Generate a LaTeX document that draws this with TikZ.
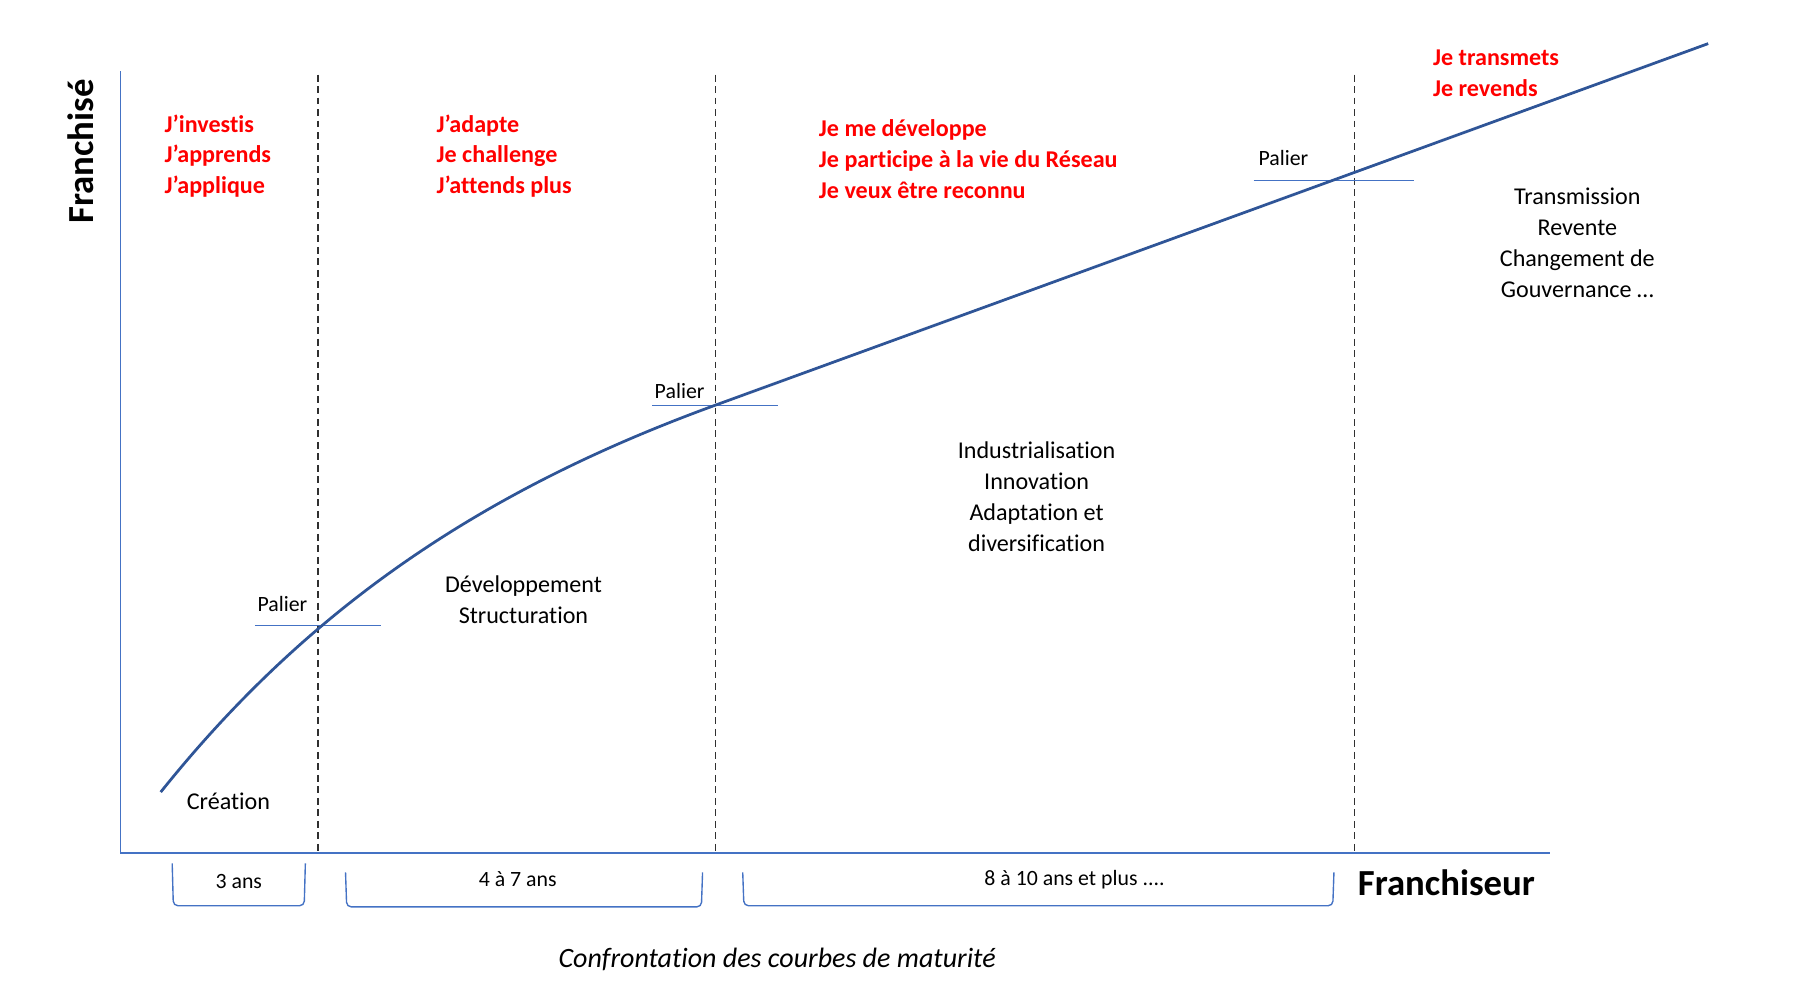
\documentclass[tikz,border=0pt]{standalone}
\usepackage{fontspec}
\setmainfont{Carlito}[Ligatures=NoCommon]
\definecolor{curveblue}{HTML}{2F5597}
\definecolor{axisblue}{HTML}{4472C4}
\definecolor{redtxt}{HTML}{FF0000}
\definecolor{dashgray}{HTML}{303030}
\begin{document}
\begin{tikzpicture}[x=0.5pt,y=-0.5pt,
  redtext/.style={text=redtxt,font=\fontsize{10.5}{13.5}\selectfont\bfseries,align=left,anchor=west,inner sep=0pt},
  phasetext/.style={font=\fontsize{10.5}{13.5}\selectfont,align=center,inner sep=0pt},
  smalltext/.style={font=\fontsize{9.5}{11}\selectfont,inner sep=0pt},
  axistitle/.style={font=\fontsize{16}{18}\selectfont\bfseries,inner sep=0pt},
  axisline/.style={draw=axisblue,line width=0.8pt},
  palierline/.style={draw=axisblue,line width=0.6pt},
  phaseline/.style={draw=dashgray,line width=0.55pt,dash pattern=on 3pt off 2pt},
  bracketline/.style={draw=axisblue,line width=0.6pt,rounded corners=2pt},
  maturity/.style={draw=curveblue,line width=1.2pt}]
\useasboundingbox (0,0) rectangle (1568,877);

% axes
\coordinate (ytop) at (105,62);
\coordinate (origin) at (105,743);
\coordinate (xend) at (1350,743);
\draw[axisline] (ytop) -- (origin) -- (xend);

% phase separators
\coordinate (d1t) at (277,65);  \coordinate (d1b) at (277,743);
\coordinate (d2t) at (623,65);  \coordinate (d2b) at (623,743);
\coordinate (d3t) at (1180,65); \coordinate (d3b) at (1180,743);
\draw[phaseline] (d1t) -- (d1b);
\draw[phaseline] (d2t) -- (d2b);
\draw[phaseline] (d3t) -- (d3b);

% paliers
\coordinate (p1a) at (222,545); \coordinate (p1b) at (332,545);
\coordinate (p2a) at (568,353); \coordinate (p2b) at (678,353);
\coordinate (p3a) at (1092,157); \coordinate (p3b) at (1232,157);
\draw[palierline] (p1a) -- (p1b);
\draw[palierline] (p2a) -- (p2b);
\draw[palierline] (p3a) -- (p3b);
\node[smalltext] (pal1) at (246,526) {Palier};
\node[smalltext] (pal2) at (592,341) {Palier};
\node[smalltext] (pal3) at (1118,138) {Palier};

% maturity curve
\coordinate (cstart) at (140,690);
\coordinate (cmid) at (623,353);
\coordinate (cend) at (1488,38);
\draw[maturity] (cstart) .. controls (270,527.5) and (423,425.8) .. (cmid) -- (cend);

% red texts
\node[redtext] (r1) at (143,136) {J’investis\\J’apprends\\J’applique};
\node[redtext] (r2) at (380,136) {J’adapte\\Je challenge\\J’attends plus};
\node[redtext] (r3) at (713,139) {Je me développe\\Je participe à la vie du Réseau\\Je veux être reconnu};
\node[redtext] (r4) at (1248,63.5) {Je transmets\\Je revends};

% phase texts
\node[phasetext] (creation) at (199,698) {Création};
\node[phasetext] (dev) at (456,522.5) {Développement\\Structuration};
\node[phasetext] (indus) at (903,432.5) {Industrialisation\\Innovation\\Adaptation et\\diversification};
\node[phasetext] (trans) at (1374,211.5) {Transmission\\Revente\\Changement de\\Gouvernance …};

% axis titles
\node[axistitle,rotate=90] (franchise) at (70,132) {Franchisé};
\node[axistitle] (franchiseur) at (1260,769) {Franchiseur};

% duration brackets
\draw[bracketline] (150,752) -- (151,789) -- (265,789) -- (266,752);
\draw[bracketline] (301,760) -- (302,790) -- (611,790) -- (612,760);
\draw[bracketline] (647,760) -- (648,789) -- (1161,789) -- (1162,760);
\node[smalltext] (b1) at (208,768) {3 ans};
\node[smalltext] (b2) at (451,766) {4 à 7 ans};
\node[smalltext] (b3) at (936,766) {8 à 10 ans et plus ....};

% caption
\node[inner sep=0pt,font=\fontsize{12.2}{14}\selectfont\itshape] (caption) at (677,836) {Confrontation des courbes de maturité};
\end{tikzpicture}
\end{document}
